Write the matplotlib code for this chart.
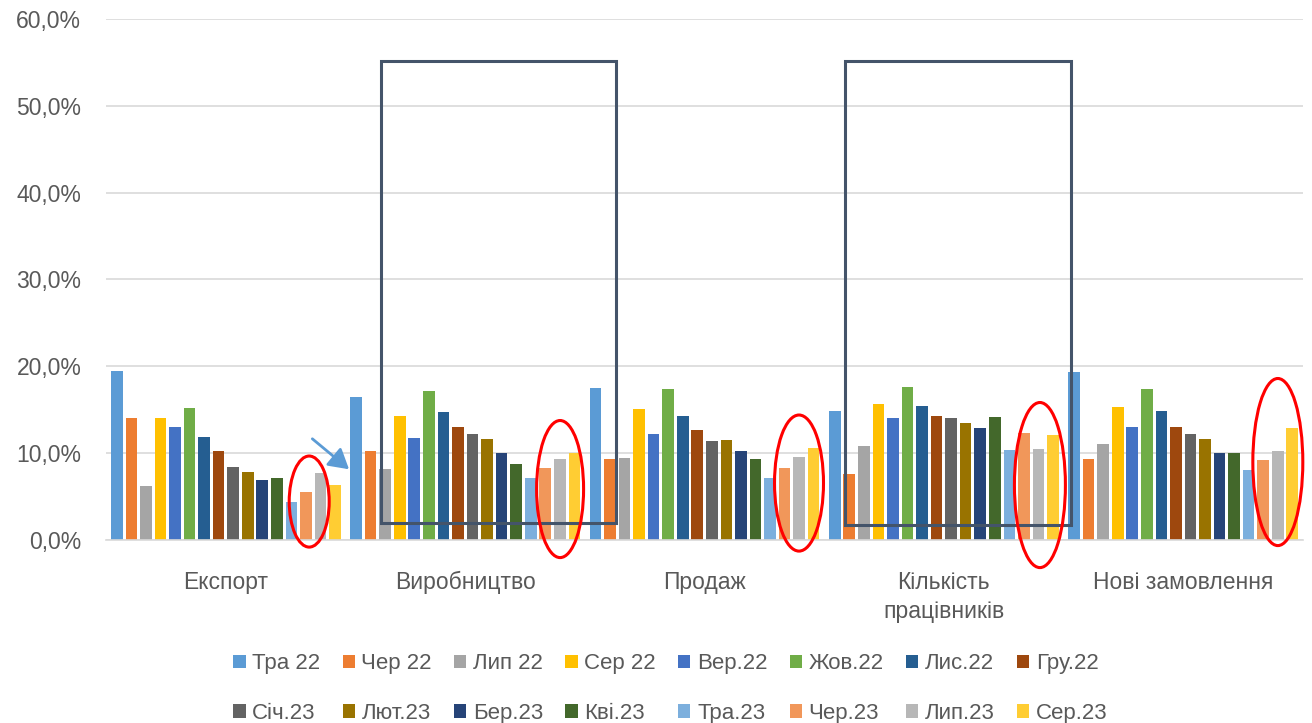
import numpy as np
import matplotlib.pyplot as plt
from matplotlib.patches import Rectangle, Ellipse
from matplotlib.ticker import FuncFormatter

plt.rcParams['font.family'] = ['Liberation Sans', 'DejaVu Sans']

categories = ["Експорт", "Виробництво", "Продаж", "Кількість\nпрацівників", "Нові замовлення"]
series = ["Тра 22", "Чер 22", "Лип 22", "Сер 22", "Вер.22", "Жов.22", "Лис.22", "Гру.22",
          "Січ.23", "Лют.23", "Бер.23", "Кві.23", "Тра.23", "Чер.23", "Лип.23", "Сер.23"]
colors = ["#5B9BD5", "#ED7D31", "#A5A5A5", "#FFC000", "#4472C4", "#70AD47", "#255E91", "#9E480E",
          "#636363", "#997300", "#264478", "#43682B", "#7CAFDD", "#F1975A", "#B7B7B7", "#FFCD33"]

# values in %, one row per series, columns follow categories
values = np.array([
    [19.5, 16.5, 17.5, 14.8, 19.4],   # Тра 22
    [14.0, 10.2, 9.35, 7.6, 9.35],    # Чер 22
    [6.2, 8.2, 9.5, 10.8, 11.1],      # Лип 22
    [14.0, 14.3, 15.1, 15.7, 15.3],   # Сер 22
    [13.0, 11.7, 12.2, 14.1, 13.0],   # Вер.22
    [15.2, 17.2, 17.35, 17.6, 17.35], # Жов.22
    [11.9, 14.7, 14.3, 15.4, 14.9],   # Лис.22
    [10.3, 13.0, 12.7, 14.3, 13.0],   # Гру.22
    [8.4, 12.2, 11.4, 14.1, 12.2],    # Січ.23
    [7.85, 11.6, 11.55, 13.5, 11.6],  # Лют.23
    [6.9, 10.0, 10.3, 12.85, 10.0],   # Бер.23
    [7.1, 8.7, 9.35, 14.2, 10.0],     # Кві.23
    [4.35, 7.2, 7.1, 10.35, 8.05],    # Тра.23
    [5.5, 8.3, 8.3, 12.35, 9.2],      # Чер.23
    [7.7, 9.35, 9.55, 10.5, 10.3],    # Лип.23
    [6.35, 10.0, 10.65, 12.15, 12.85],# Сер.23
])

fig = plt.figure(figsize=(13.12, 7.23), dpi=100)
ax = fig.add_axes([0.081, 0.253, 0.912, 0.721])

x = np.arange(len(categories))
slot = 0.0608
for j, (name, c) in enumerate(zip(series, colors)):
    ax.bar(x + (j - 7.5) * slot, values[j], width=slot * 0.8, color=c, label=name, zorder=2)

ax.set_xlim(-0.5, 4.5)
ax.set_ylim(0, 60)
ax.set_yticks(np.arange(0, 61, 10))
ax.yaxis.set_major_formatter(FuncFormatter(lambda v, p: f"{v:.1f}%".replace(".", ",")))
ax.grid(axis='y', color='#D9D9D9', linewidth=1.2, zorder=0)
for s in ['top', 'right', 'left']:
    ax.spines[s].set_visible(False)
ax.spines['bottom'].set_color('#D9D9D9')
ax.spines['bottom'].set_linewidth(1.2)
ax.set_xticks(x)
ax.set_xticklabels(categories, linespacing=1.35)
ax.tick_params(axis='both', length=0, labelsize=16.5, colors='#595959')
ax.tick_params(axis='y', pad=18)
ax.tick_params(axis='x', pad=22)

# annotation frames
box_c = '#44546A'
ax.add_patch(Rectangle((0.647, 2.0), 0.981, 53.2, fill=False, edgecolor=box_c, linewidth=2.2, zorder=3))
ax.add_patch(Rectangle((2.585, 1.7), 0.947, 53.4, fill=False, edgecolor=box_c, linewidth=2.2, zorder=3))

# red ellipses, sizes measured in pixels and converted to data units
px = 1.0 / 239.4
py = 60.0 / 521.0
ells = [(309, 501.5, 40, 91), (560, 489, 47, 137), (799, 483, 49, 136),
        (1040, 485, 51, 165), (1278, 462, 50, 167)]
for cx, cy, w, h in ells:
    ax.add_patch(Ellipse(((cx - 106) * px - 0.5, (540 - cy) * py), w * px, h * py,
                         fill=False, edgecolor='#FF0000', linewidth=2.2, zorder=4, clip_on=False))

# blue arrow
ax.annotate('', xy=((351 - 106) * px - 0.5, (540 - 471) * py),
            xytext=((310 - 106) * px - 0.5, (540 - 437) * py),
            arrowprops=dict(arrowstyle='-|>,head_length=0.6,head_width=0.35', color='#5B9BD5',
                            lw=2, mutation_scale=20), zorder=4)

# legend filled row by row (8 per row)
handles, labels = ax.get_legend_handles_labels()
order = [i for pair in zip(range(8), range(8, 16)) for i in pair]
leg = fig.legend([handles[i] for i in order], [labels[i] for i in order],
                 loc='upper center', bbox_to_anchor=(0.511, 0.112), ncol=8, frameon=False,
                 fontsize=16, handlelength=0.55, handleheight=0.55, handletextpad=0.3,
                 columnspacing=1.0, labelspacing=1.3, borderpad=0)
for t in leg.get_texts():
    t.set_color('#595959')

fig.savefig('out.png', dpi=100)
